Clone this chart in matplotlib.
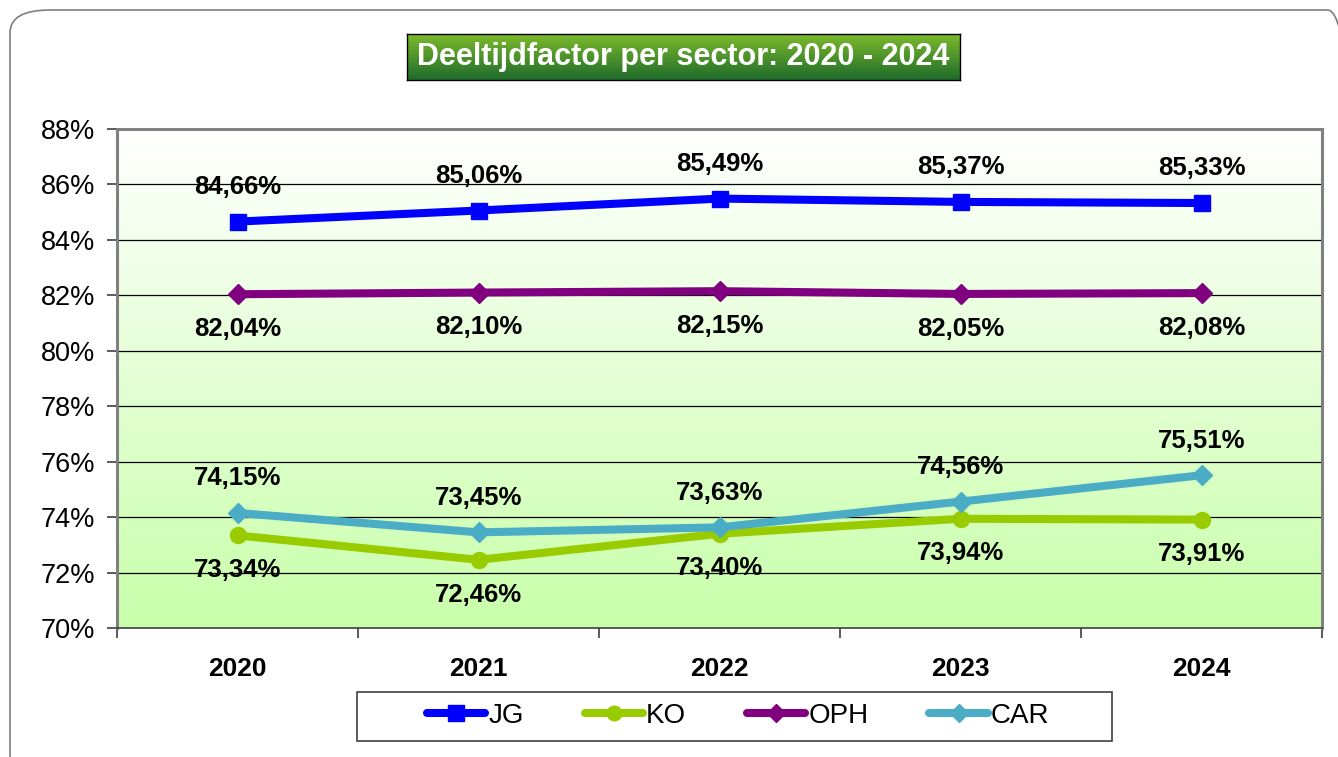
"""
Deeltijdfactor per sector 2020 - 2024, lijngrafiek
"""

import matplotlib
matplotlib.use("Agg")
import matplotlib.pyplot as plt
import numpy as np
from matplotlib.colors import LinearSegmentedColormap
from matplotlib.patches import FancyBboxPatch, Rectangle
from matplotlib.lines import Line2D

plt.rcParams["font.family"] = ["Liberation Sans", "DejaVu Sans"]

years = ["2020", "2021", "2022", "2023", "2024"]
jg = [84.66, 85.06, 85.49, 85.37, 85.33]
ko = [73.34, 72.46, 73.40, 73.94, 73.91]
oph = [82.04, 82.10, 82.15, 82.05, 82.08]
car = [74.15, 73.45, 73.63, 74.56, 75.51]
yticks = list(range(70, 89, 2))

series = [
    ("JG", jg, "#0000FF", "s", 12, 1),
    ("KO", ko, "#99CC00", "o", 11.5, -1),
    ("OPH", oph, "#800080", "D", 10, -1),
    ("CAR", car, "#4BACC6", "D", 10, 1),
]

W, H = 1338, 757
fig = plt.figure(figsize=(W / 100, H / 100), dpi=100)

# afgeronde buitenrand
frame = FancyBboxPatch((10 / W, -20 / H), (W + 20) / W, (H + 10) / H,
                       boxstyle="round,pad=0,rounding_size=0.03",
                       transform=fig.transFigure, facecolor="none",
                       edgecolor="#7f7f7f", linewidth=1.2, zorder=-1)
fig.patches.append(frame)

ax = fig.add_axes([117 / W, 1 - 628 / H, 1205 / W, 499 / H])
ax.set_facecolor("none")

# achtergrond met verloop: lichtgroen onder -> wit boven
grad = LinearSegmentedColormap.from_list("bg", ["#C8FFAA", "#FFFFFF"])
ax.imshow(np.linspace(0, 1, 256).reshape(-1, 1), cmap=grad, aspect="auto",
          extent=(-0.5, 4.5, 70, 88), origin="lower", zorder=0)

# rasterlijnen alleen binnen het plotvlak
ax.hlines(yticks[1:-1], -0.5, 4.5, colors="black", linewidth=0.9, zorder=1)

x = np.arange(len(years))
for name, vals, color, marker, ms, side in series:
    ax.plot(x, vals, color=color, linewidth=5.8, marker=marker, markersize=ms,
            label=name, zorder=3, solid_capstyle="round")
    for xi, v in zip(x, vals):
        ax.annotate(f"{v:.2f}%".replace(".", ","), (xi, v),
                    xytext=(0, 25 * side), textcoords="offset points",
                    ha="center", va="center", fontsize=18.5, fontweight="bold",
                    zorder=4)

ax.set_xlim(-0.5, 4.5)
ax.set_ylim(70, 88)
ax.set_yticks(yticks)
ax.set_yticklabels([f"{v}%" for v in yticks], fontsize=19.5)

ax.set_xticks(x)
ax.set_xticklabels(years, fontsize=19, fontweight="bold")
ax.set_xticks(np.arange(-0.5, 5, 1), minor=True)
ax.tick_params(axis="x", which="major", length=0, pad=21)
ax.tick_params(axis="x", which="minor", length=7, color="#404040", width=1.2)
ax.tick_params(axis="y", length=7, color="#404040", width=1.2, pad=9)

for side in ["left", "top", "right"]:
    ax.spines[side].set_color("#808080")
    ax.spines[side].set_linewidth(2.2)
ax.spines["bottom"].set_color("#404040")
ax.spines["bottom"].set_linewidth(1.2)

# titelbalk met groen verloop
tax = fig.add_axes([407 / W, 1 - 80 / H, 553 / W, 46 / H])
tgrad = LinearSegmentedColormap.from_list("tt", ["#7CBA2C", "#1F6B2B"])
tax.imshow(np.linspace(0, 1, 64).reshape(-1, 1), cmap=tgrad, aspect="auto",
           extent=(0, 1, 0, 1), origin="upper")
tax.set_xticks([])
tax.set_yticks([])
for s in tax.spines.values():
    s.set_color("black")
    s.set_linewidth(1.0)
tax.text(0.5, 0.5, "Deeltijdfactor per sector: 2020 - 2024", color="white",
         fontsize=22, fontweight="bold", ha="center", va="center",
         transform=tax.transAxes)

# legenda met eigen kader
box = Rectangle((357 / W, 1 - 741 / H), 755 / W, 49 / H,
                transform=fig.transFigure, facecolor="white",
                edgecolor="#404040", linewidth=1.2)
fig.patches.append(box)
handles = [Line2D([], [], color=c, linewidth=5.8, marker=m, markersize=ms - 1,
                  solid_capstyle="round")
           for _, _, c, m, ms, _ in series]
fig.legend(handles, [s[0] for s in series], loc="center", ncol=4,
           bbox_to_anchor=(738 / W, 1 - 716 / H), fontsize=20,
           frameon=False, handlelength=2.1, handletextpad=0.1,
           columnspacing=2.2, borderaxespad=0)

fig.savefig("out.png", dpi=100)
